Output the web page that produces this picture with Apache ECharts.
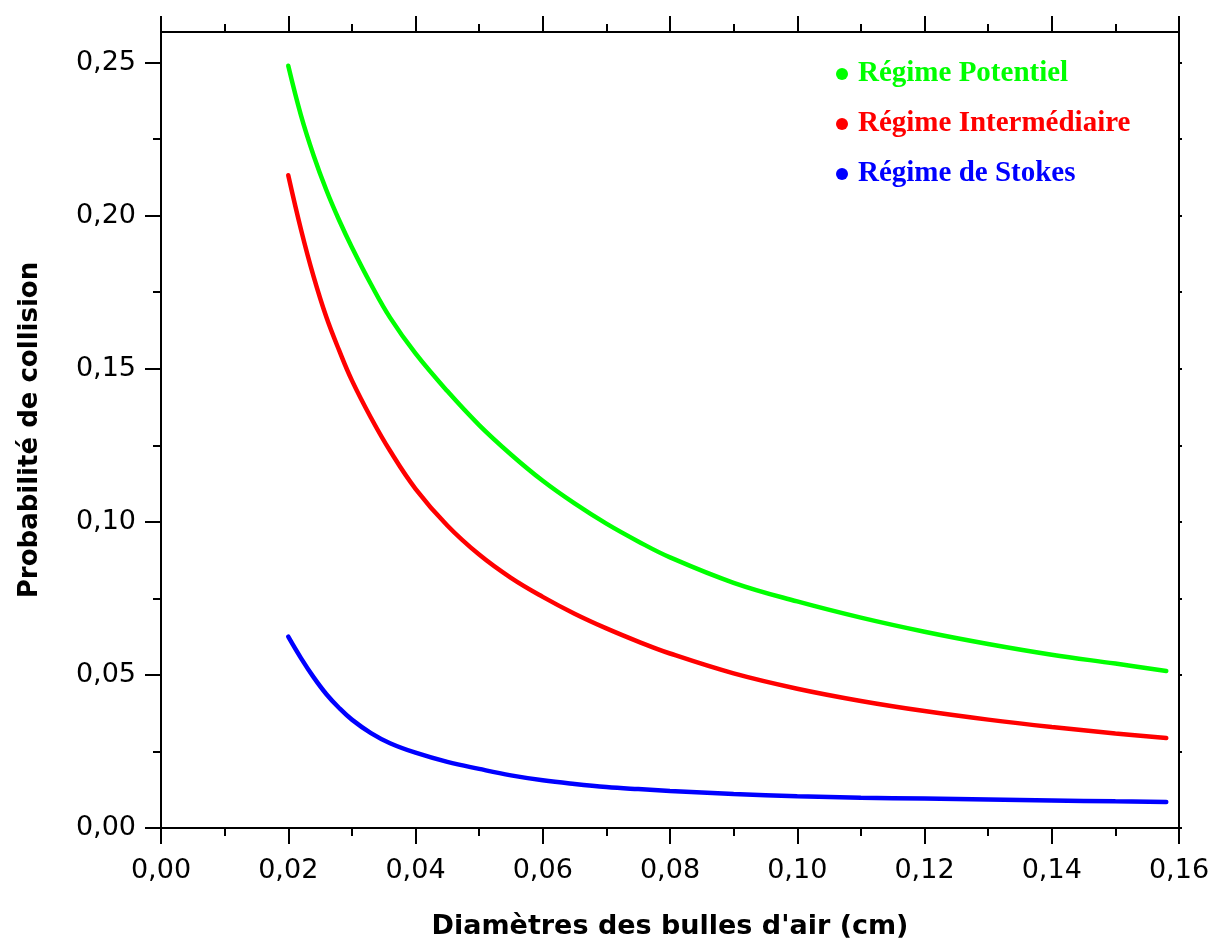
<!DOCTYPE html>
<html>
<head>
<meta charset="utf-8">
<title>Probabilité de collision</title>
<script src="https://cdn.jsdelivr.net/npm/echarts@6/dist/echarts.min.js"></script>
<style>
  html, body { margin: 0; padding: 0; background: #fff; }
  #chart { width: 1210px; height: 943px; }
</style>
</head>
<body>
<div id="chart"></div>
<script>
// diamètres des bulles (cm)
const diameters = [0.020, 0.022, 0.024, 0.026, 0.028, 0.030, 0.033, 0.036, 0.040, 0.045,
  0.050, 0.055, 0.060, 0.065, 0.070, 0.075, 0.080, 0.090, 0.100, 0.110,
  0.120, 0.130, 0.140, 0.150, 0.158]

// probabilité de collision
const potentiel = [0.2490, 0.2328, 0.2196, 0.2083, 0.1985, 0.1897, 0.1776, 0.1667, 0.1550, 0.1427,
  0.1316, 0.1220, 0.1134, 0.1060, 0.0994, 0.0936, 0.0884, 0.0801, 0.0740, 0.0687,
  0.0641, 0.0601, 0.0566, 0.0537, 0.0513]
const intermediaire = [0.2132, 0.1955, 0.1800, 0.1668, 0.1560, 0.1462, 0.1340, 0.1232, 0.1108, 0.0988,
  0.0893, 0.0817, 0.0755, 0.0700, 0.0652, 0.0609, 0.0570, 0.0505, 0.0455, 0.0415,
  0.0382, 0.0354, 0.0330, 0.0309, 0.0294]
const stokes = [0.0625, 0.0555, 0.0492, 0.0437, 0.0392, 0.0354, 0.0310, 0.0277, 0.0246, 0.0216,
  0.0193, 0.0172, 0.0156, 0.0144, 0.0134, 0.0127, 0.0121, 0.0111, 0.0104, 0.0099,
  0.0096, 0.0093, 0.0090, 0.0087, 0.0085]

const seriesNames = ['Régime Potentiel', 'Régime Intermédiaire', 'Régime de Stokes']
const seriesColors = ['#00ff00', '#ff0000', '#0000ff']
const yMajor = [0, 0.05, 0.10, 0.15, 0.20, 0.25]
const yMinor = [0.025, 0.075, 0.125, 0.175, 0.225]
const yAll = [0, 0.025, 0.05, 0.075, 0.10, 0.125, 0.15, 0.175, 0.20, 0.225, 0.25]

const fmt = v => v.toFixed(2).replace('.', ',')
const black = { color: '#000', width: 2 }

const myChart = echarts.init(document.getElementById('chart'))

// une courbe par régime
const series = [potentiel, intermediaire, stokes].map((vals, i) => ({
  name: seriesNames[i],
  type: 'line',
  xAxisIndex: 0,
  yAxisIndex: 0,
  showSymbol: false,
  smooth: 0.4,
  color: seriesColors[i],
  lineStyle: { width: 4.5, color: seriesColors[i], cap: 'round' },
  data: vals.map((v, k) => [diameters[k], v])
}))

const option = {
  animation: false,
  backgroundColor: '#fff',
  grid: { left: 161, right: 31, top: 32, bottom: 115, outerBoundsMode: 'none' },
  legend: {
    orient: 'vertical',
    left: 831,
    top: 54,
    itemWidth: 22,
    itemHeight: 12,
    itemGap: 20,
    icon: 'circle',
    textStyle: { fontFamily: 'Liberation Serif', fontWeight: 'bold', fontSize: 29, lineHeight: 30 },
    data: seriesNames.map((n, i) => ({ name: n, textStyle: { color: seriesColors[i] } }))
  },
  xAxis: [{
    type: 'value',
    position: 'bottom',
    min: 0,
    max: 0.16,
    interval: 0.02,
    name: 'Diamètres des bulles d\'air (cm)',
    nameLocation: 'middle',
    nameGap: 85,
    nameTextStyle: { fontFamily: 'DejaVu Sans', fontWeight: 'bold', fontSize: 27, color: '#000' },
    axisLine: { show: true, onZero: false, lineStyle: black },
    axisTick: { show: true, inside: false, length: 16, lineStyle: black },
    minorTick: { show: true, splitNumber: 2, length: 8, lineStyle: black },
    axisLabel: { fontFamily: 'DejaVu Sans', fontSize: 27, color: '#000', margin: 29, formatter: fmt },
    splitLine: { show: false }
  }, {
    type: 'value',
    position: 'top',
    min: 0,
    max: 0.16,
    interval: 0.02,
    axisLine: { show: true, onZero: false, lineStyle: black },
    axisTick: { show: true, inside: false, length: 16, lineStyle: black },
    minorTick: { show: true, splitNumber: 2, length: 8, lineStyle: black },
    axisLabel: { show: false },
    splitLine: { show: false }
  }],
  yAxis: [{
    type: 'value',
    position: 'left',
    min: 0,
    max: 0.26,
    name: 'Probabilité de collision',
    nameLocation: 'middle',
    nameGap: 118,
    nameRotate: 90,
    nameTextStyle: { fontFamily: 'DejaVu Sans', fontWeight: 'bold', fontSize: 26, color: '#000' },
    axisLine: { show: true, onZero: false, lineStyle: black },
    axisTick: { show: true, inside: false, length: 16, lineStyle: black, customValues: yMajor },
    axisLabel: { fontFamily: 'DejaVu Sans', fontSize: 27, color: '#000', margin: 25, formatter: fmt, customValues: yMajor },
    splitLine: { show: false }
  }, {
    // petites graduations à gauche
    type: 'value',
    position: 'left',
    min: 0,
    max: 0.26,
    axisLine: { show: false, onZero: false },
    axisTick: { show: true, inside: false, length: 8, lineStyle: black, customValues: yMinor },
    axisLabel: { show: false, customValues: yMinor },
    splitLine: { show: false }
  }, {
    type: 'value',
    position: 'right',
    min: 0,
    max: 0.26,
    axisLine: { show: true, onZero: false, lineStyle: black },
    axisTick: { show: true, inside: false, length: 3, lineStyle: black, customValues: yAll },
    axisLabel: { show: false, customValues: yAll },
    splitLine: { show: false }
  }],
  series: series
}

myChart.setOption(option)
</script>
</body>
</html>
